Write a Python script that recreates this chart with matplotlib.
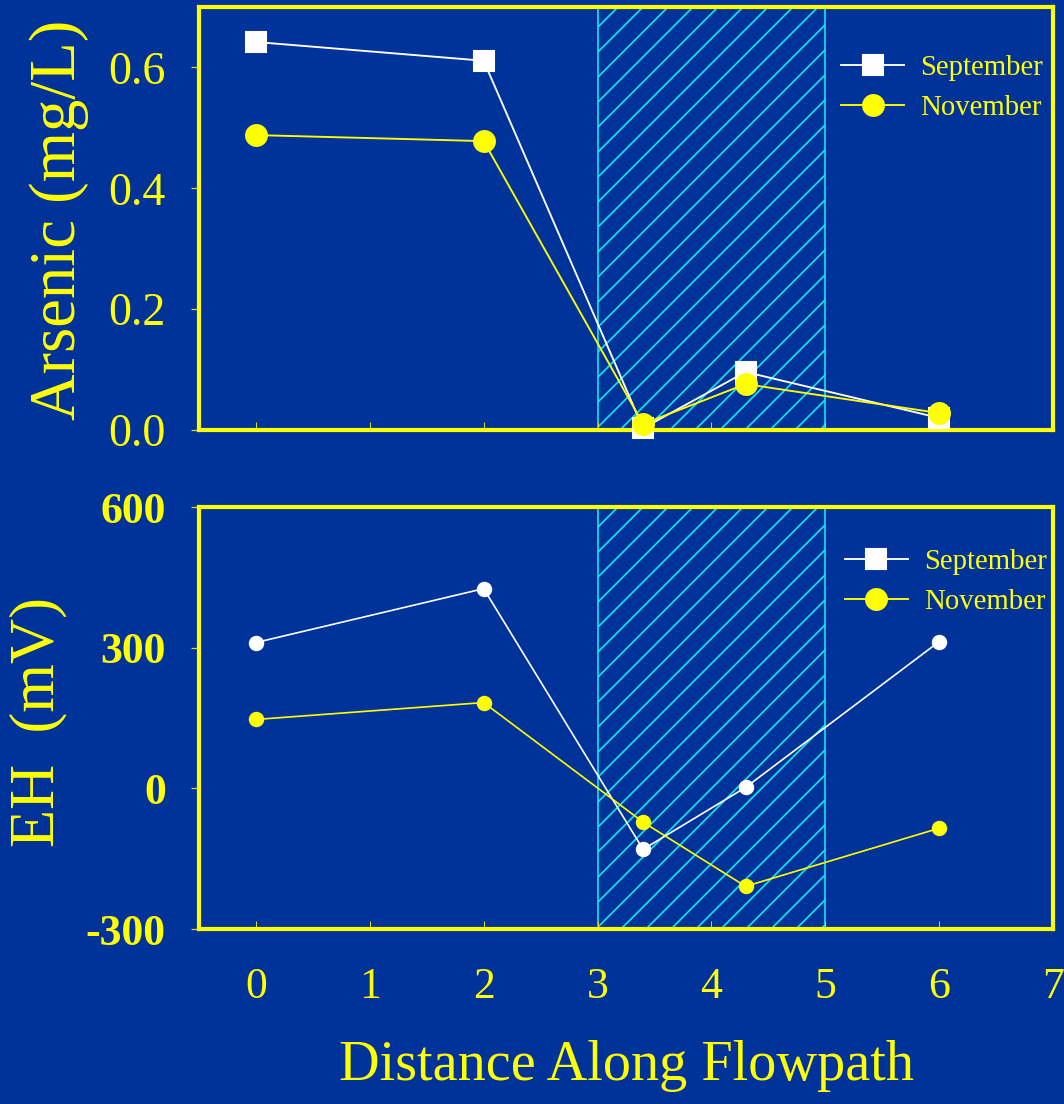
import numpy as np
import matplotlib
matplotlib.use('Agg')
import matplotlib.pyplot as plt
from matplotlib.lines import Line2D

# data
distance = [0, 2, 3.4, 4.3, 6]
arsenic_sep = [0.642, 0.611, 0.003, 0.096, 0.020]
arsenic_nov = [0.488, 0.478, 0.010, 0.076, 0.028]
eh_sep = [311, 426, -130, 2, 313]
eh_nov = [147, 183, -72, -209, -85]
series_names = ['September', 'November']
zone = [3, 5]

bg = '#003399'
yel = '#ffff00'
cyan = '#10e6f4'
tickc = '#d8d830'

plt.rcParams['font.family'] = ['Liberation Serif', 'DejaVu Serif']
plt.rcParams['hatch.linewidth'] = 0.8
plt.rcParams['hatch.color'] = cyan

fig = plt.figure(figsize=(1064 / 150, 1104 / 150), dpi=150, facecolor=bg)
ax1 = fig.add_axes([0.187, 0.6105, 0.8027, 0.3832])
ax2 = fig.add_axes([0.187, 0.1585, 0.8027, 0.3822])

for ax in (ax1, ax2):
    ax.set_facecolor(bg)
    for s in ax.spines.values():
        s.set_color(yel)
        s.set_linewidth(2)
    ax.axvspan(zone[0], zone[1], facecolor='none', edgecolor=cyan, hatch='//', linewidth=0.8, zorder=1)
    ax.set_xlim(-0.5, 7)
    ax.set_xticks(range(0, 8))
    ax.tick_params(axis='x', direction='in', length=4, width=0.5, color=tickc)
    ax.tick_params(axis='y', direction='out', length=4, width=0.6, color=tickc, pad=12)
    ax.tick_params(axis='y', labelcolor=yel)

# top: arsenic
ax1.plot(distance, arsenic_sep, color='white', lw=0.9, marker='s', ms=10, mec='white', mfc='white',
         zorder=3, clip_on=False)
ax1.plot(distance, arsenic_nov, color=yel, lw=0.9, marker='o', ms=10, mec=yel, mfc=yel,
         zorder=4, clip_on=False)
ax1.set_ylim(0, 0.7)
ax1.set_yticks([0.0, 0.2, 0.4, 0.6])
ax1.set_yticklabels(['0.0', '0.2', '0.4', '0.6'], fontsize=22)
ax1.set_xticklabels([])

# bottom: EH
ax2.plot(distance, eh_sep, color='white', lw=0.8, marker='o', ms=6.4, mec='white', mfc='white', zorder=3)
ax2.plot(distance, eh_nov, color=yel, lw=0.8, marker='o', ms=6.4, mec=yel, mfc=yel, zorder=4)
ax2.set_ylim(-300, 600)
ax2.set_yticks([-300, 0, 300, 600])
ax2.set_yticklabels(['-300', '0', '300', '600'], fontsize=21, fontweight='bold')
ax2.set_xticklabels([str(v) for v in range(0, 8)], fontsize=21, color=yel)
ax2.tick_params(axis='x', pad=18)
ax2.set_xlabel('Distance Along Flowpath', fontsize=27, color=yel, labelpad=16)

fig.text(59 / 1064, 1 - 220 / 1104, 'Arsenic (mg/L)', rotation=90, ha='center', va='center',
         fontsize=31, color=yel)
fig.text(38 / 1064, 1 - 722 / 1104, 'EH  (mV)', rotation=90, ha='center', va='center',
         fontsize=30, color=yel)

handles = [Line2D([], [], color='white', lw=0.9, marker='s', ms=10, mfc='white', mec='white'),
           Line2D([], [], color=yel, lw=0.9, marker='o', ms=10, mfc=yel, mec=yel)]
for ax, anchor in ((ax1, (0.752, 0.808)), (ax2, (0.756, 0.822))):
    leg = ax.legend(handles, series_names, loc='center left', bbox_to_anchor=anchor, frameon=False,
                    fontsize=13.8, handlelength=2.2, handletextpad=0.55, labelspacing=0.5,
                    borderpad=0, borderaxespad=0)
    for t in leg.get_texts():
        t.set_color(yel)

fig.savefig('out.png', dpi=150, facecolor=bg)
